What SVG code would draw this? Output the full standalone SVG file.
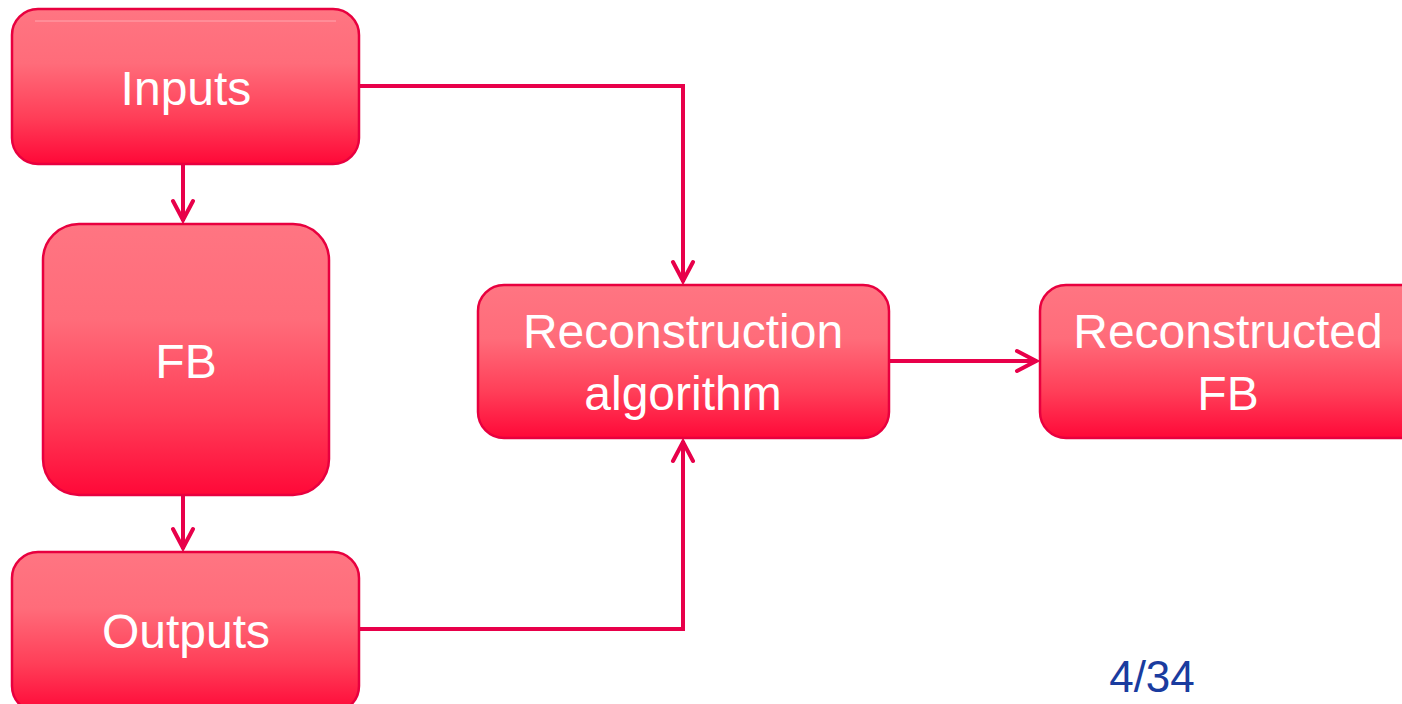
<svg xmlns="http://www.w3.org/2000/svg" width="1402" height="704" viewBox="0 0 1402 704">
  <style>
    .box { fill: url(#boxFill); stroke: #e8003f; stroke-width: 2.5; }
    .shine { fill: none; stroke: #ffb3ba; stroke-width: 1; opacity: 0.8; }
    .label { font-family: "Liberation Sans", Arial, sans-serif; font-size: 48px; fill: #ffffff; text-anchor: middle; }
    .wire { fill: none; stroke: #e8004a; stroke-width: 4; stroke-linejoin: miter; marker-end: url(#chev); }
    .page { font-family: "Liberation Sans", Arial, sans-serif; font-size: 44px; fill: #1a3c9f; text-anchor: middle; }
  </style>
  <defs>
    <linearGradient id="boxFill" x1="0" y1="0" x2="0" y2="1">
      <stop offset="0" stop-color="#ff7582"/>
      <stop offset="0.35" stop-color="#ff6c7a"/>
      <stop offset="0.7" stop-color="#ff3e58"/>
      <stop offset="1" stop-color="#ff0838"/>
    </linearGradient>
    <marker id="chev" markerUnits="userSpaceOnUse" viewBox="-26 -14 30 28" refX="1" refY="0" markerWidth="30" markerHeight="28" orient="auto">
      <path d="M-19,-10 L0,0 L-19,10" fill="none" stroke="#e8004a" stroke-width="4" stroke-linecap="round" stroke-linejoin="miter"/>
    </marker>
  </defs>
  <rect width="1402" height="704" fill="#ffffff"/>

  <g id="connectors">
    <path class="wire" d="M183,165 L183,221"/>
    <path class="wire" d="M183,495 L183,549"/>
    <path class="wire" d="M359,86 L683,86 L683,282"/>
    <path class="wire" d="M359,629 L683,629 L683,441"/>
    <path class="wire" d="M889,361 L1037,361"/>
  </g>

  <g id="inputs">
    <rect class="box" x="12" y="9" width="347" height="155" rx="26"/>
    <line class="shine" x1="35" y1="21" x2="336" y2="21"/>
    <text class="label" x="186" y="105">Inputs</text>
  </g>

  <g id="fb">
    <rect class="box" x="43" y="224" width="286" height="271" rx="36"/>
    <text class="label" x="186" y="378">FB</text>
  </g>

  <g id="outputs">
    <rect class="box" x="12" y="552" width="347" height="160" rx="26"/>
    <text class="label" x="186" y="648">Outputs</text>
  </g>

  <g id="reconstruction-algorithm">
    <rect class="box" x="478" y="285" width="411" height="153" rx="26"/>
    <text class="label" x="683" y="348">Reconstruction</text>
    <text class="label" x="683" y="410">algorithm</text>
  </g>

  <g id="reconstructed-fb">
    <rect class="box" x="1040" y="285" width="390" height="153" rx="26"/>
    <text class="label" x="1228" y="348">Reconstructed</text>
    <text class="label" x="1228" y="410">FB</text>
  </g>

  <text class="page" x="1152" y="692">4/34</text>
</svg>
